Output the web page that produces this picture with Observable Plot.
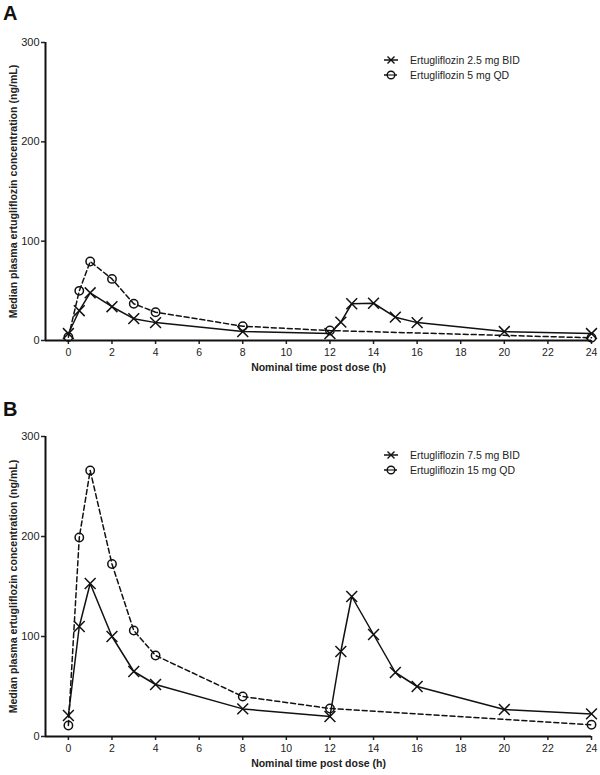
<!DOCTYPE html>
<html>
<head>
<meta charset="utf-8">
<script src="https://cdn.jsdelivr.net/npm/d3@7"></script>
<script src="https://cdn.jsdelivr.net/npm/@observablehq/plot@0.6"></script>
<style>
  body { margin: 0; background: #fff; font-family: "Liberation Sans", Arial, sans-serif; }
  #wrap { position: relative; width: 600px; height: 775px; }
  .panel-letter { position: absolute; left: 3px; font-weight: bold; font-size: 20px; color: #111; line-height: 1; }
  .legend { position: absolute; font-size: 10.5px; color: #222; }
  .legend .row { display: flex; align-items: center; height: 15px; }
  .legend svg { margin-right: 12px; }
  g[aria-label="x-axis label"] text, g[aria-label="y-axis label"] text { font-weight: bold; }
  g[aria-label="y-axis label"] text { font-size: 10.6px; }
  svg.plot { display: block; }
</style>
</head>
<body>
<div id="wrap">
  <div id="panelA"></div>
  <div id="panelB"></div>
  <div class="panel-letter" style="top:3px">A</div>
  <div class="panel-letter" style="top:399px">B</div>
</div>
<script>
// Nominal time points (h)
const timeBID = [0, 0.5, 1, 2, 3, 4, 8, 12, 12.5, 13, 14, 15, 16, 20, 24];
const timeQD = [0, 0.5, 1, 2, 3, 4, 8, 12, 24];

// Panel A
const labelA_BID = "Ertugliflozin 2.5 mg BID";
const labelA_QD = "Ertugliflozin 5 mg QD";
const concA_BID = [7, 30, 48, 34, 22, 18, 9, 7, 18.5, 37, 37.5, 23.5, 18, 9, 7];
const concA_QD = [3.4, 50, 79.5, 62, 37, 28.5, 14.4, 10, 2.7];

// Panel B
const labelB_BID = "Ertugliflozin 7.5 mg BID";
const labelB_QD = "Ertugliflozin 15 mg QD";
const concB_BID = [21, 110, 153, 100, 65, 52, 27.6, 20, 85, 140, 102, 64, 50, 27, 22.6];
const concB_QD = [11, 199, 266, 172.5, 106, 81, 40, 28, 11.7];

const xTicks = [0, 2, 4, 6, 8, 10, 12, 14, 16, 18, 20, 22, 24];
const yTicks = [0, 100, 200, 300];
const xLabel = "Nominal time post dose (h)";
const yLabel = "Median plasma ertugliflozin concentration (ng/mL)";

function rows(times, values) {
  return times.map((t, i) => ({t, c: values[i]}));
}

function panel(bid, qd, opts) {
  return Plot.plot({
    width: 600,
    height: opts.height,
    marginLeft: 45,
    marginRight: 9,
    marginTop: opts.marginTop,
    marginBottom: opts.marginBottom,
    x: {domain: [-1.05, 24]},
    y: {domain: [0, 300]},
    style: {fontFamily: "'Liberation Sans', Arial, sans-serif", fontSize: "11px", color: "#222", background: "#fff"},
    marks: [
      Plot.axisX({ticks: xTicks, tickSize: 4, tickPadding: 4, strokeWidth: 1.5, label: xLabel, labelAnchor: "center", labelArrow: "none", labelOffset: 30, fontSize: 10.5}),
      Plot.axisY({ticks: yTicks, tickSize: 4, tickPadding: 2, strokeWidth: 1.5, label: yLabel, labelAnchor: "center", labelArrow: "none", labelOffset: 36}),
      Plot.lineY(qd, {x: "t", y: "c", stroke: "#111", strokeWidth: 1.5, strokeDasharray: "5,3"}),
      Plot.lineY(bid, {x: "t", y: "c", stroke: "#111", strokeWidth: 1.5}),
      Plot.dot(qd, {x: "t", y: "c", symbol: "circle", r: 4.2, stroke: "#111", strokeWidth: 1.5, fill: "none"}),
      Plot.dot(bid, {x: "t", y: "c", symbol: "times", r: 5, stroke: "#111", strokeWidth: 1.5}),
      Plot.ruleY([0], {stroke: "#111", strokeWidth: 2}),
      Plot.ruleX([-1.05], {stroke: "#111", strokeWidth: 2})
    ]
  });
}

document.getElementById("panelA").append(panel(rows(timeBID, concA_BID), rows(timeQD, concA_QD), {height: 375, marginTop: 42, marginBottom: 35}));
document.getElementById("panelB").append(panel(rows(timeBID, concB_BID), rows(timeQD, concB_QD), {height: 400, marginTop: 61, marginBottom: 39}));

function legend(top, labels) {
  const div = document.createElement("div");
  div.className = "legend";
  div.style.left = "384px";
  div.style.top = top + "px";
  const icons = [
    `<svg width="14" height="12"><line x1="0" y1="6" x2="14" y2="6" stroke="#111" stroke-width="1.5"/><path d="M3.5,2.5L10.5,9.5M10.5,2.5L3.5,9.5" stroke="#111" stroke-width="1.4"/></svg>`,
    `<svg width="14" height="12"><line x1="0" y1="6" x2="3" y2="6" stroke="#111" stroke-width="1.5"/><line x1="11" y1="6" x2="13" y2="6" stroke="#111" stroke-width="1.5"/><circle cx="7" cy="6" r="3.8" fill="none" stroke="#111" stroke-width="1.4"/><line x1="3.5" y1="6" x2="10.5" y2="6" stroke="#111" stroke-width="1.1"/></svg>`
  ];
  div.innerHTML = labels.map((l, i) => `<div class="row">${icons[i]}<span>${l}</span></div>`).join("");
  document.getElementById("wrap").append(div);
}
legend(52, [labelA_BID, labelA_QD]);
legend(447, [labelB_BID, labelB_QD]);
</script>
</body>
</html>
